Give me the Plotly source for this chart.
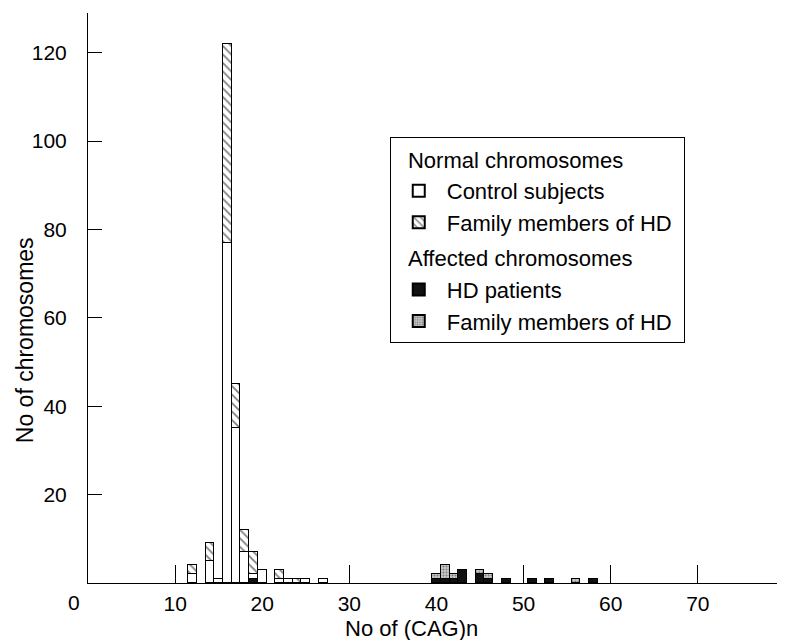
import plotly.graph_objects as go

# CAG repeat length categories
cag = [12, 14, 15, 16, 17, 18, 19, 20, 22, 23, 24, 25, 27,
       40, 41, 42, 43, 45, 46, 48, 51, 53, 56, 58]

# Normal chromosomes
control_subjects = [2, 5, 1, 77, 35, 7, 1, 3, 1, 1, 0, 1, 1,
                    0, 0, 0, 0, 0, 0, 0, 0, 0, 0, 0]
family_normal = [2, 4, 0, 45, 10, 5, 5, 0, 2, 0, 1, 0, 0,
                 0, 0, 0, 0, 0, 0, 0, 0, 0, 0, 0]
# Affected chromosomes
hd_patients = [0, 0, 0, 0, 0, 0, 1, 0, 0, 0, 0, 0, 0,
               1, 1, 1, 3, 2, 1, 1, 1, 1, 0, 1]
family_affected = [0, 0, 0, 0, 0, 0, 0, 0, 0, 0, 0, 0, 0,
                   1, 3, 1, 0, 1, 1, 0, 0, 0, 1, 0]

x_ticks = [10, 20, 30, 40, 50, 60, 70]
x_tickmarks = [10, 30, 50, 60, 70]
y_ticks = [20, 40, 60, 80, 100, 120]

FONT = "Liberation Sans, Arial, sans-serif"
NB = "\u00a0\u00a0"

fig = go.Figure()
line = dict(color="black", width=1)

fig.add_trace(go.Bar(
    x=cag, y=hd_patients, width=1, name="HD patients",
    legendgroup="affected", legendgrouptitle_text=NB + "Affected chromosomes",
    legendrank=3,
    marker=dict(color="#111111", line=line)))
fig.add_trace(go.Bar(
    x=cag, y=control_subjects, width=1, name="Control subjects",
    legendgroup="normal", legendgrouptitle_text=NB + "Normal chromosomes",
    legendrank=1,
    marker=dict(color="white", line=line)))
fig.add_trace(go.Bar(
    x=cag, y=family_normal, width=1, name="Family members of HD",
    legendgroup="normal", legendrank=2,
    marker=dict(color="white", line=line,
                pattern=dict(shape="\\", fgcolor="black", bgcolor="white",
                             size=6, solidity=0.3))))
fig.add_trace(go.Bar(
    x=cag, y=family_affected, width=1, name="Family members of HD ",
    legendgroup="affected", legendrank=4,
    marker=dict(color="#bbbbbb", line=line,
                pattern=dict(shape=".", fgcolor="#333333", bgcolor="#c8c8c8",
                             size=3, solidity=0.35))))
# helper trace on overlay axis carrying the visible tick marks
fig.add_trace(go.Scatter(x=[None], y=[None], xaxis="x2", showlegend=False,
                         hoverinfo="skip"))

XR = [0, 81.5]

fig.update_layout(
    width=790, height=632,
    margin=dict(l=80, r=0, t=5, b=57),
    paper_bgcolor="white", plot_bgcolor="white",
    barmode="stack", bargap=0,
    showlegend=True,
    legend=dict(
        x=0.425, y=0.782, xanchor="left", yanchor="top",
        traceorder="grouped", tracegroupgap=4, itemwidth=46,
        bordercolor="black", borderwidth=1, bgcolor="white",
        font=dict(family=FONT, size=22, color="black"),
        grouptitlefont=dict(family=FONT, size=22, color="black"),
        itemsizing="constant",
    ),
    xaxis=dict(
        range=XR, tickvals=x_ticks, ticks="", showline=True,
        linecolor="black", linewidth=1, showgrid=False, zeroline=False,
        tickfont=dict(family=FONT, size=21, color="black"),
        ticklabelstandoff=2,
    ),
    xaxis2=dict(
        range=XR, overlaying="x", anchor="y", side="bottom",
        tickvals=x_tickmarks, ticks="inside", ticklen=18, tickcolor="black",
        tickwidth=1, showticklabels=False, showline=False, showgrid=False,
        zeroline=False,
    ),
    yaxis=dict(
        range=[0, 129], tickvals=y_ticks, ticks="inside", ticklen=14,
        tickcolor="black", showline=True, linecolor="black", linewidth=1,
        showgrid=False, zeroline=False,
        tickfont=dict(family=FONT, size=21, color="black"),
        ticklabelstandoff=16,
    ),
    annotations=[
        dict(text="0", x=-0.0197, y=-0.011, xref="paper", yref="paper",
             showarrow=False, xanchor="center", yanchor="top",
             font=dict(family=FONT, size=21, color="black")),
        dict(text="No of (CAG)n", x=0.455, y=-0.0807, xref="paper",
             yref="paper", showarrow=False, xanchor="center",
             yanchor="middle", font=dict(family=FONT, size=22, color="black")),
        dict(text="No of chromosomes", x=-0.0887, y=0.426, xref="paper",
             yref="paper", showarrow=False, xanchor="center",
             yanchor="middle", textangle=-90,
             font=dict(family=FONT, size=23, color="black")),
    ],
)

fig.write_html("out.html")
